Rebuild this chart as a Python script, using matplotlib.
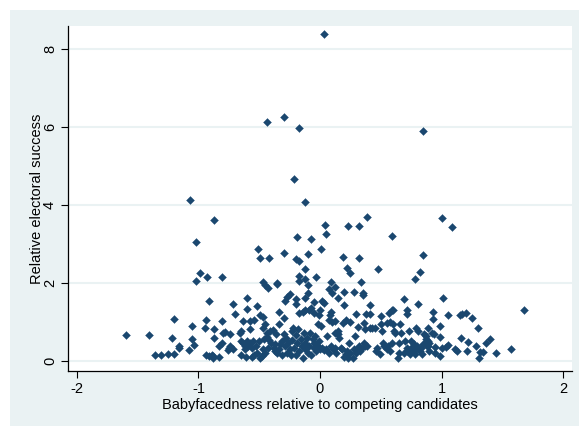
import matplotlib.pyplot as plt
from matplotlib.patches import Rectangle

# babyfacedness (x) vs relative electoral success (y)
x_high = [0.03, -0.44, -0.30, -0.17, 0.85, -0.21, -0.12, -1.07, -0.87, -1.02,
          -0.99, -1.02, -0.93, -0.81, 0.04, 0.05, 0.23, 0.32, 0.39, 1.00,
          1.09, 0.59, -0.19, -0.07, 0.01, -0.51, -0.30, -0.49, -0.42, -0.10,
          -0.20, -0.17, 0.19, 0.32, 0.85, 0.48, 0.22, 0.25, -0.12, -0.17,
          -0.12, -0.03, 0.82, 0.78, -0.17, -0.10, 0.34, 0.09, -0.47, -0.45,
          -0.43, -0.35, -0.35, 0.12, 0.07, 0.10, 0.20, 0.28, 0.35, 0.35,
          -0.25, -0.27, -0.29, -0.10, -0.12, -0.20, -0.20, -0.05, 0.02, 0.03,
          0.15, 0.20, 0.41, 0.69, 1.01, 0.81, -0.60, -0.52, -0.60, -0.72,
          -0.70, -0.91, -0.34, -0.30, -0.49, -0.47, -0.58, -0.63, -0.54]
y_high = [8.38, 6.13, 6.25, 5.98, 5.91, 4.66, 4.09, 4.14, 3.61, 3.06,
          2.25, 2.06, 2.15, 2.15, 3.49, 3.26, 3.45, 3.46, 3.68, 3.66,
          3.44, 3.20, 3.19, 3.12, 2.87, 2.86, 2.77, 2.65, 2.64, 2.74,
          2.62, 2.57, 2.67, 2.65, 2.71, 2.37, 2.38, 2.26, 2.37, 2.19,
          2.11, 2.15, 2.27, 2.11, 2.05, 1.96, 2.02, 2.03, 2.02, 1.95,
          1.87, 2.01, 1.98, 1.91, 1.85, 1.74, 1.77, 1.76, 1.74, 1.70,
          1.73, 1.65, 1.55, 1.75, 1.62, 1.60, 1.45, 1.52, 1.54, 1.48,
          1.61, 1.43, 1.44, 1.60, 1.62, 1.45, 1.62, 1.41, 1.34, 1.45,
          1.21, 1.55, 1.26, 1.11, 1.17, 1.13, 1.02, 1.03, 1.04]

x_mid = [-0.17, -0.14, -0.12, -0.09, -0.07, -0.05, 0.00, -0.01, 0.09, 0.08,
         0.07, 0.10, 0.12, 0.21, 0.25, 0.15, 0.12, 0.30, 0.41, 0.31,
         0.36, 0.38, 0.50, 0.50, 0.59, 0.60, 0.57, 0.55, 0.58, 0.60,
         0.72, 0.72, 0.66, 0.93, 1.05, 0.93, 0.99, 1.15, 1.17, 1.20,
         1.25, 1.68, 1.30]
y_mid = [1.22, 1.25, 1.31, 1.30, 1.37, 1.24, 1.32, 1.19, 1.26, 1.18,
         1.04, 1.00, 1.02, 1.04, 1.01, 0.78, 0.73, 1.20, 1.21, 0.87,
         0.98, 1.20, 1.15, 0.96, 1.31, 1.32, 1.24, 0.98, 1.00, 0.94,
         1.30, 1.20, 0.94, 1.25, 1.18, 1.09, 0.91, 1.19, 1.20, 1.23,
         1.10, 1.32, 0.84]

x_low = [-1.60, -1.41, -1.36, -1.31, -1.25, -1.20, -1.22, -1.20, -1.16, -1.16,
         -1.08, -1.05, -1.05, -1.04, -0.94, -0.95, -0.94, -0.91, -0.89, -0.88,
         -0.88, -0.87, -0.87, -0.83, -0.81, -0.83, -0.81, -0.80, -0.78, -0.76,
         -0.75, -0.74, -0.74, -0.72, -0.66, -0.65, -0.65, -0.65, -0.63, -0.62,
         -0.62, -0.61, -0.60, -0.59, -0.58, -0.58, -0.56, -0.56, -0.55, -0.54,
         -0.53, -0.52, -0.50, -0.49, -0.48, -0.47, -0.47, -0.46, -0.45, -0.45,
         -0.44, -0.44, -0.43, -0.42, -0.41, -0.40, -0.39, -0.38, -0.37, -0.37,
         -0.36, -0.35, -0.34, -0.34, -0.33, -0.31, -0.31, -0.30, -0.29, -0.28,
         -0.27, -0.26, -0.25, -0.24, -0.23, -0.23, -0.22, -0.21, -0.20, -0.20,
         -0.19, -0.18, -0.17, -0.16, -0.15, -0.14, -0.13, -0.12, -0.12, -0.11,
         -0.10, -0.09, -0.08, -0.07, -0.06, -0.05, -0.05, -0.04, -0.03, -0.02,
         -0.02, -0.01, 0.00, 0.01, 0.02, 0.03, 0.05, 0.06, 0.07, 0.09,
         0.11, 0.12, 0.13, 0.14, 0.15, 0.16, 0.17, 0.18, 0.19, 0.20,
         0.21, 0.22, 0.23, 0.24, 0.25, 0.27, 0.28, 0.29, 0.30, 0.31,
         0.32, 0.33, 0.34, 0.36, 0.37, 0.37, 0.39, 0.41, 0.43, 0.45,
         0.46, 0.47, 0.49, 0.51, 0.52, 0.53, 0.55, 0.56, 0.58, 0.59,
         0.61, 0.62, 0.64, 0.65, 0.65, 0.67, 0.69, 0.70, 0.72, 0.72,
         0.73, 0.74, 0.75, 0.75, 0.76, 0.77, 0.78, 0.79, 0.79, 0.80,
         0.81, 0.82, 0.83, 0.84, 0.85, 0.87, 0.88, 0.89, 1.16, 1.22,
         1.28, 1.32, 1.34, 1.31, 1.40, 1.37, 1.45, 1.57, 1.21, 1.13,
         1.11, 1.05, 1.04, 1.00, 0.99, 0.99, 0.94, 0.92, 0.89, 0.86,
         0.87, 0.88, 0.90, 0.89, 0.90, 0.95, 0.95]
y_low = [0.66, 0.67, 0.15, 0.15, 0.19, 0.19, 0.60, 1.07, 0.34, 0.38,
         0.28, 0.57, 0.91, 0.40, 1.05, 0.84, 0.15, 0.13, 0.15, 0.09,
         0.14, 0.82, 0.60, 0.10, 1.03, 0.38, 0.47, 0.71, 0.74, 0.28,
         0.34, 0.38, 0.70, 0.32, 0.73, 0.77, 0.15, 0.51, 0.47, 0.38,
         0.32, 0.11, 0.51, 0.38, 0.81, 0.47, 0.34, 0.11, 0.51, 0.15,
         0.38, 0.21, 0.51, 0.07, 0.13, 0.85, 0.30, 0.57, 0.94, 0.21,
         0.62, 0.73, 0.34, 0.54, 0.77, 0.47, 0.80, 0.34, 0.26, 0.43,
         0.68, 0.20, 0.30, 0.96, 0.43, 0.51, 0.15, 0.68, 0.38, 0.60,
         0.21, 0.47, 0.30, 0.15, 0.54, 0.77, 0.85, 0.34, 0.15, 0.66,
         0.47, 0.81, 0.26, 0.56, 0.38, 0.09, 0.73, 0.30, 0.45, 0.60,
         0.20, 0.38, 0.73, 0.15, 0.56, 0.34, 0.47, 0.64, 0.26, 0.94,
         0.38, 0.51, 0.30, 0.90, 0.34, 0.28, 0.32, 0.64, 0.21, 0.38,
         0.30, 0.34, 0.21, 0.73, 0.68, 0.60, 0.34, 0.30, 0.98, 0.11,
         0.19, 0.26, 0.09, 0.47, 0.21, 0.09, 0.30, 0.64, 0.21, 0.34,
         0.38, 0.26, 0.32, 0.47, 0.38, 0.81, 0.38, 0.85, 0.85, 0.85,
         0.26, 0.34, 0.17, 0.77, 0.47, 0.38, 0.30, 0.38, 0.26, 0.47,
         0.77, 0.73, 0.09, 0.21, 0.47, 0.73, 0.21, 0.51, 0.34, 0.26,
         0.77, 0.17, 0.51, 0.34, 0.26, 0.43, 0.17, 0.30, 0.85, 0.38,
         0.77, 0.26, 0.34, 0.17, 0.43, 0.64, 0.38, 0.51, 0.58, 0.49,
         0.38, 0.23, 0.23, 0.09, 0.56, 0.46, 0.21, 0.32, 0.26, 0.26,
         0.31, 0.42, 0.36, 0.33, 0.13, 0.62, 0.69, 0.72, 0.84, 0.70,
         0.57, 0.50, 0.45, 0.38, 0.26, 0.37, 0.20]

x = x_high + x_mid + x_low
y = y_high + y_mid + y_low

bg = '#EAF2F3'
navy = '#1A476F'

plt.rcParams['font.family'] = ['Liberation Sans', 'DejaVu Sans']

fig = plt.figure(figsize=(5.79, 4.26), dpi=100)
fig.patch.set_facecolor('white')
# stata style graph region, kept behind the axes
fig.patches.append(Rectangle((10 / 579, 0), 1, 1 - 10 / 426, transform=fig.transFigure,
                             facecolor=bg, edgecolor='none', zorder=-10))

ax = fig.add_axes([68 / 579, 55 / 426, 504 / 579, 345 / 426])
ax.set_zorder(1)
ax.set_facecolor('white')

ax.scatter(x, y, marker='D', s=16, color=navy, edgecolors=navy, linewidths=0.3, zorder=3)

ax.set_xlim(-2.074, 2.074)
ax.set_ylim(-0.256, 8.59)
ax.set_xticks([-2, -1, 0, 1, 2])
ax.set_yticks([0, 2, 4, 6, 8])
ax.set_xticklabels(['-2', '-1', '0', '1', '2'])
ax.set_yticklabels(['0', '2', '4', '6', '8'], rotation=90, va='center')

ax.grid(axis='y', color=bg, linewidth=1.5)
ax.set_axisbelow(True)
for s in ['top', 'right']:
    ax.spines[s].set_visible(False)
for s in ['left', 'bottom']:
    ax.spines[s].set_color('black')
    ax.spines[s].set_linewidth(0.9)
ax.tick_params(direction='out', length=5, width=0.8, labelsize=10.5, colors='black', pad=3)

ax.set_xlabel('Babyfacedness relative to competing candidates', fontsize=10.5, labelpad=1)
ax.set_ylabel('Relative electoral success', fontsize=10.5, labelpad=-1)

fig.savefig('out.png', dpi=100, facecolor=fig.get_facecolor())
